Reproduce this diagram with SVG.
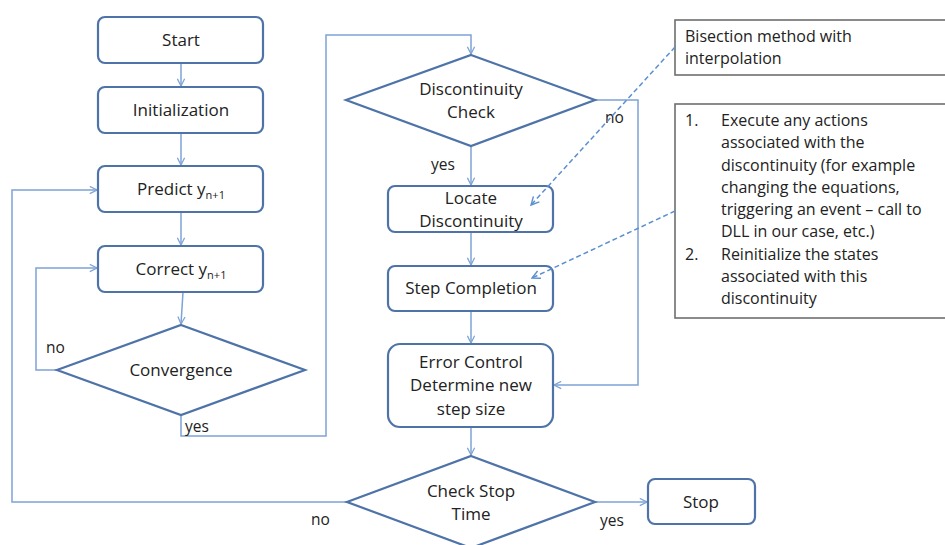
<svg xmlns="http://www.w3.org/2000/svg" width="945" height="545" viewBox="0 0 945 545">
<defs>
<marker id="ah" viewBox="0 0 10 10" refX="9" refY="5" markerWidth="9" markerHeight="9" markerUnits="userSpaceOnUse" orient="auto">
<path d="M1,1 L9,5 L1,9" fill="none" stroke="#7ea3d6" stroke-width="1.4"/>
</marker>
<marker id="ahd" viewBox="0 0 10 10" refX="9" refY="5" markerWidth="10" markerHeight="10" markerUnits="userSpaceOnUse" orient="auto">
<path d="M1,1 L9,5 L1,9" fill="none" stroke="#5b8fd0" stroke-width="1.4"/>
</marker>
</defs>
<style>
.node{fill:#fff;stroke:#4e73a8;stroke-width:2.2}
.t{font-family:"Open Sans","Liberation Sans",sans-serif;font-size:17px;fill:#222;text-anchor:middle}
.lbl{font-family:"Open Sans","Liberation Sans",sans-serif;font-size:15.5px;fill:#222}
.c{fill:none;stroke:#7ea3d6;stroke-width:1.5}
.d{fill:none;stroke:#5b8fd0;stroke-width:1.5;stroke-dasharray:5,3}
.note{fill:#fff;stroke:#6e6e6e;stroke-width:1.6}
.nt{font-family:"Open Sans","Liberation Sans",sans-serif;font-size:16px;fill:#222}
.sub{font-size:11px}
</style>
<rect width="945" height="545" fill="#fff"/>
<g id="connectors">
<path class="c" d="M181,63 V86" marker-end="url(#ah)"/>
<path class="c" d="M181,133 V165" marker-end="url(#ah)"/>
<path class="c" d="M181,212 V245" marker-end="url(#ah)"/>
<path class="c" d="M183,292 L181,324" marker-end="url(#ah)"/>
<path class="c" d="M57,370 H36 V268 H97" marker-end="url(#ah)"/>
<path class="c" d="M181,415 V436 H326 V35 H471 V54" marker-end="url(#ah)"/>
<path class="c" d="M471,146 V185" marker-end="url(#ah)"/>
<path class="c" d="M471,232 V265" marker-end="url(#ah)"/>
<path class="c" d="M471,311 V343" marker-end="url(#ah)"/>
<path class="c" d="M595,100 H638 V385 H554" marker-end="url(#ah)"/>
<path class="c" d="M471,427 V455" marker-end="url(#ah)"/>
<path class="c" d="M595,502 H647" marker-end="url(#ah)"/>
<path class="c" d="M347,502 H12 V190 H97" marker-end="url(#ah)"/>
<text class="lbl" x="46" y="353">no</text>
<text class="lbl" x="185" y="432">yes</text>
<text class="lbl" x="431" y="170">yes</text>
<text class="lbl" x="605" y="123">no</text>
<text class="lbl" x="311" y="525">no</text>
<text class="lbl" x="600" y="526">yes</text>
</g>
<g id="start"><rect class="node" x="98" y="17" width="165" height="46" rx="7"/><text class="t" x="181" y="46">Start</text></g>
<g id="init"><rect class="node" x="98" y="87" width="165" height="46" rx="7"/><text class="t" x="181" y="116">Initialization</text></g>
<g id="predict"><rect class="node" x="98" y="166" width="165" height="46" rx="7"/><text class="t" x="181" y="195">Predict y<tspan class="sub" dy="4">n+1</tspan></text></g>
<g id="correct"><rect class="node" x="98" y="246" width="165" height="46" rx="7"/><text class="t" x="181" y="275">Correct y<tspan class="sub" dy="4">n+1</tspan></text></g>
<g id="convergence"><polygon class="node" points="181,325 305,370 181,415 57,370"/><text class="t" x="181" y="376">Convergence</text></g>
<g id="disc-check"><polygon class="node" points="471,55 595,100 471,146 346,100"/><text class="t" x="471" y="95">Discontinuity</text><text class="t" x="471" y="118">Check</text></g>
<g id="locate"><rect class="node" x="388" y="186" width="165" height="46" rx="7"/><text class="t" x="471" y="204">Locate</text><text class="t" x="471" y="227">Discontinuity</text></g>
<g id="step"><rect class="node" x="388" y="266" width="165" height="45" rx="7"/><text class="t" x="471" y="294">Step Completion</text></g>
<g id="error"><rect class="node" x="388" y="344" width="165" height="83" rx="12"/><text class="t" x="471" y="368">Error Control</text><text class="t" x="471" y="391">Determine new</text><text class="t" x="471" y="415">step size</text></g>
<g id="check-stop"><polygon class="node" points="471,456 595,502 471,548 347,502"/><text class="t" x="471" y="497">Check Stop</text><text class="t" x="471" y="520">Time</text></g>
<g id="stop"><rect class="node" x="648" y="479" width="107" height="45" rx="7"/><text class="t" x="701" y="508">Stop</text></g>
<g id="note1"><rect class="note" x="675" y="20" width="280" height="55"/><text class="nt" x="685" y="42">Bisection method with</text><text class="nt" x="685" y="64">interpolation</text></g>
<g id="note2"><rect class="note" x="675" y="104" width="280" height="214"/>
<text class="nt" x="685" y="126">1.</text>
<text class="nt" x="721" y="126">Execute any actions</text>
<text class="nt" x="721" y="148">associated with the</text>
<text class="nt" x="721" y="171">discontinuity (for example</text>
<text class="nt" x="721" y="193">changing the equations,</text>
<text class="nt" x="721" y="215">triggering an event – call to</text>
<text class="nt" x="721" y="237">DLL in our case, etc.)</text>
<text class="nt" x="685" y="260">2.</text>
<text class="nt" x="721" y="260">Reinitialize the states</text>
<text class="nt" x="721" y="282">associated with this</text>
<text class="nt" x="721" y="304">discontinuity</text>
</g>
<g id="note-connectors">
<path class="d" d="M675,47 L531,205" marker-end="url(#ahd)"/>
<path class="d" d="M675,211 L532,278" marker-end="url(#ahd)"/>
</g>
</svg>
